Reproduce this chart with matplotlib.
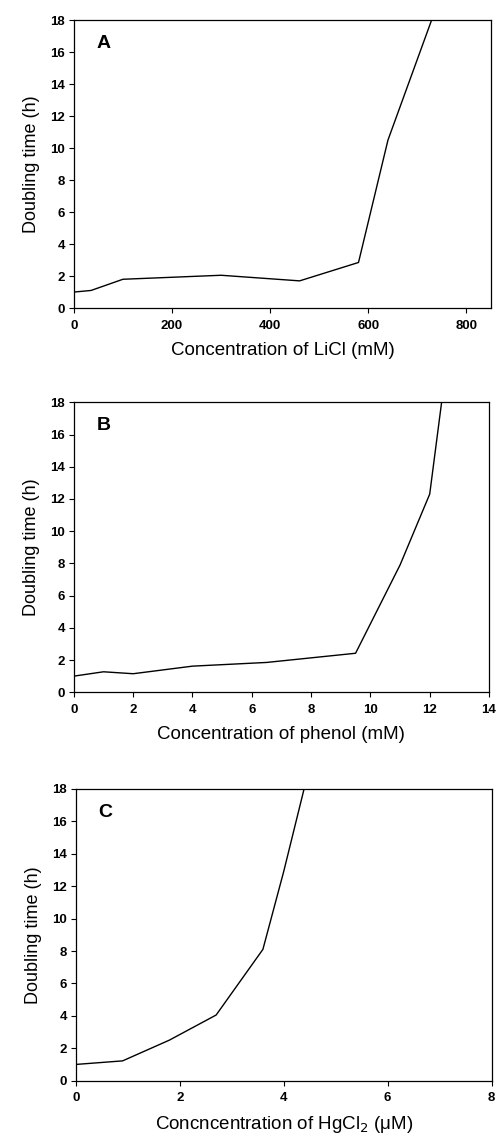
import matplotlib
matplotlib.use("Agg")
import matplotlib.pyplot as plt

plt.rcParams['font.family'] = ['Liberation Sans', 'DejaVu Sans']

# Panel A: LiCl
licl_x = [0, 35, 100, 300, 460, 580, 640, 800]
licl_y = [1.0, 1.1, 1.8, 2.05, 1.7, 2.85, 10.5, 24.0]

# Panel B: phenol
phenol_x = [0, 1, 2, 4, 6.5, 9.5, 11, 12, 13]
phenol_y = [1.0, 1.27, 1.15, 1.62, 1.85, 2.42, 7.9, 12.3, 26.5]

# Panel C: HgCl2
hg_x = [0, 0.9, 1.8, 2.7, 3.6, 4.0, 4.5]
hg_y = [1.0, 1.22, 2.5, 4.05, 8.1, 12.9, 19.4]

panels = [
    ('A', licl_x, licl_y, [0, 850], [0, 200, 400, 600, 800],
     'Concentration of LiCl (mM)', [0.148, 0.7293, 0.836, 0.253]),
    ('B', phenol_x, phenol_y, [0, 14], [0, 2, 4, 6, 8, 10, 12, 14],
     'Concentration of phenol (mM)', [0.148, 0.3917, 0.832, 0.2548]),
    ('C', hg_x, hg_y, [0, 8], [0, 2, 4, 6, 8],
     'Concncentration of HgCl$_2$ (μM)', [0.152, 0.0504, 0.833, 0.2563]),
]

fig = plt.figure(figsize=(4.99, 11.38), dpi=100)

for letter, x, y, xlim, xticks, xlabel, pos in panels:
    ax = fig.add_axes(pos)
    ax.plot(x, y, color='black', linewidth=1.0)
    ax.set_xlim(xlim)
    ax.set_ylim(0, 18)
    ax.set_xticks(xticks)
    ax.set_yticks(range(0, 19, 2))
    ax.tick_params(direction='out', length=3.5, width=0.8, labelsize=9.5)
    ax.tick_params(axis='x', pad=5)
    ax.tick_params(axis='y', pad=3)
    for lbl in ax.get_xticklabels() + ax.get_yticklabels():
        lbl.set_fontweight('bold')
    for s in ax.spines.values():
        s.set_linewidth(0.9)
    ax.set_xlabel(xlabel, fontsize=13.5, labelpad=7)
    ax.set_ylabel('Doubling time (h)', fontsize=13, labelpad=7)
    ax.text(0.055, 0.95, letter, transform=ax.transAxes, fontsize=14,
            fontweight='bold', va='top', ha='left')

fig.savefig('out.png', dpi=100)
